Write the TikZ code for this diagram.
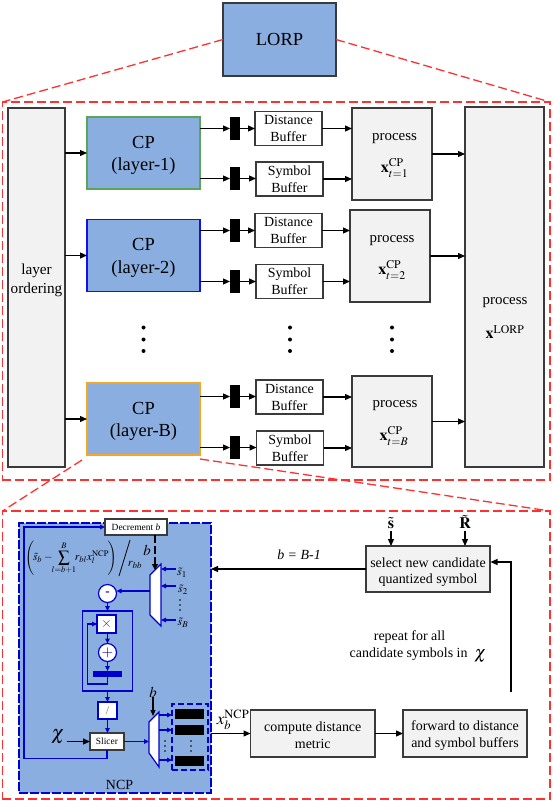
\documentclass[tikz,border=0pt]{standalone}
\usepackage{amsmath}
\usepackage{mathptmx}
\usepackage{fontspec}
\setmainfont{Liberation Serif}
\usetikzlibrary{arrows.meta}
\newcommand{\fsz}[2]{\fontsize{#1}{#2}\selectfont}
\newcommand{\pushdown}[1]{\rule{0pt}{#1bp}}
\definecolor{cpblue}{HTML}{8AAEE0}
\definecolor{boxgray}{HTML}{F2F2F2}
\definecolor{edge}{HTML}{3A3A3A}
\definecolor{wire}{HTML}{0000CC}
\definecolor{redd}{HTML}{FF3030}
\definecolor{cpgreen}{HTML}{5AA55A}
\definecolor{cporange}{HTML}{F5A623}
\definecolor{cpb}{HTML}{1010F0}
\tikzset{
  base/.style={inner sep=0pt,outer sep=0pt,align=center},
  sz/.style n args={2}{minimum width=#1,minimum height=#2},
  graybox/.style={base,draw=edge,line width=1.3pt,fill=boxgray},
  bufbox/.style={base,draw=edge,line width=1.3pt,fill=white,font=\fsz{14}{17}},
  muxbar/.style={base,fill=black,sz={10bp}{23bp}},
  cpbox/.style={base,fill=cpblue,line width=1.3pt,font=\fsz{18.5}{23},sz={113bp}{72bp}},
  txt/.style={base,text=black},
  proctxt/.style={txt,font=\fsz{15}{17}},
  mathtxt/.style={txt,font=\fsz{16}{18}},
  reddash/.style={draw=redd,line width=1.3pt,dash pattern=on 9bp off 4bp},
  arr/.style={draw=black,line width=1.2pt,-{Triangle[length=7bp,width=6bp]}},
  wirearr/.style={draw=wire,line width=1.1pt,-{Triangle[length=5bp,width=4.5bp]}},
  wireline/.style={draw=wire,line width=1.1pt},
  wirebox/.style={base,draw=wire,line width=1.2pt,fill=white},
  whitebox/.style={base,draw=edge,line width=1.2pt,fill=white,font=\fsz{9.5}{11}},
  adder/.style={base,shape=circle,draw=wire,line width=1.2pt,fill=white,minimum size=18bp},
  muxshape/.style={draw=wire,line width=1.2pt,fill=white},
  blackbar/.style={base,fill=black,sz={29bp}{10bp}},
}
\begin{document}
\begin{tikzpicture}[x=1bp,y=-1bp]
\useasboundingbox (0,0) rectangle (553,802);
% red regions
\node[base,reddash,sz={547.5bp}{378bp}] (upper) at (276.25,291) {};
\node[base,reddash,sz={547.5bp}{288bp}] (lower) at (276.25,655) {};
% top
\node[base,fill=cpblue,draw=edge,line width=1.3pt,font=\fsz{18.5}{22},sz={113bp}{73bp}] (lorp) at (279.5,39.5) {LORP};
\draw[reddash] (lorp.west) -- (upper.north west);
\draw[reddash] (lorp.east) -- (upper.north east);
% layer ordering
\node[graybox,sz={57bp}{359bp}] (ord) at (36.5,287.5) {};
\node[proctxt,font=\fsz{15.3}{19}] (ordt) at (36.5,280.5) {layer\\ordering};
% CP boxes
\node[cpbox,draw=cpgreen] (cpa) at (143.5,153) {\pushdown{17}CP\\(layer-1)};
\node[cpbox,draw=cpb] (cpc) at (143.5,255.5) {\pushdown{17}CP\\(layer-2)};
\node[cpbox,draw=cporange] (cpe) at (143.5,419) {\pushdown{17}CP\\(layer-B)};
\draw[arr] (ord.east |- cpa.west) -- (cpa.west);
\draw[arr] (ord.east |- cpc.west) -- (cpc.west);
\draw[arr] (ord.east |- cpe.west) -- (cpe.west);
% black mux bars
\node[muxbar] (ma) at (235,128.5) {};
\node[muxbar] (mb) at (235,178.5) {};
\node[muxbar] (mc) at (235,230.5) {};
\node[muxbar] (md) at (235,281.5) {};
\node[muxbar] (me) at (235,396.5) {};
\node[muxbar] (mf) at (235,447.5) {};
% buffers
\node[bufbox,sz={67bp}{33.5bp}] (da) at (288.5,128.5) {Distance\\Buffer};
\node[bufbox,sz={67bp}{34bp}] (sa) at (289.5,179) {Symbol\\Buffer};
\node[bufbox,sz={67bp}{34bp}] (dc) at (288.5,230.5) {Distance\\Buffer};
\node[bufbox,sz={67bp}{34bp}] (sc) at (289.5,281.5) {Symbol\\Buffer};
\node[bufbox,sz={67bp}{34bp}] (de) at (289.5,397) {Distance\\Buffer};
\node[bufbox,sz={67bp}{34bp}] (se) at (290,448) {Symbol\\Buffer};
% process boxes
\node[graybox,sz={80bp}{92bp}] (pa) at (392,154) {};
\node[graybox,sz={80bp}{92bp}] (pc) at (390,256) {};
\node[graybox,sz={80bp}{91bp}] (pe) at (392,421.5) {};
\node[graybox,sz={79bp}{360bp}] (pl) at (504.5,287) {};
\node[proctxt] (pat) at (394.5,139) {process};
\node[mathtxt] (pam) at (394.5,168) {$\mathbf{x}_{t=1}^{\mathrm{CP}}$};
\node[proctxt] (pct) at (392,241) {process};
\node[mathtxt] (pcm) at (392,270) {$\mathbf{x}_{t=2}^{\mathrm{CP}}$};
\node[proctxt] (pet) at (395,406) {process};
\node[mathtxt] (pem) at (394,436) {$\mathbf{x}_{t=B}^{\mathrm{CP}}$};
\node[proctxt] (plt) at (505,303) {process};
\node[mathtxt] (plm) at (505,332) {$\mathbf{x}^{\mathrm{LORP}}$};
% upper connectors
\foreach \c/\m/\b/\p in {cpa/ma/da/pa,cpa/mb/sa/pa,cpc/mc/dc/pc,cpc/md/sc/pc,cpe/me/de/pe,cpe/mf/se/pe}{
  \draw[arr] (\c.east |- \m.west) -- (\m.west);
  \draw[arr] (\m.east) -- (\b.west |- \m.east);
  \draw[arr] (\b.east) -- (\p.west |- \b.east);
}
\draw[arr] (pa.east) -- (pl.west |- pa.east);
\draw[arr] (pc.east) -- (pl.west |- pc.east);
\draw[arr] (pe.east) -- (pl.west |- pe.east);
% vertical dots
\foreach \x in {143.5,290,392}{\foreach \y in {327.5,339.5,351}{\fill[black] (\x,\y) circle (2bp);}}
% dashed zoom lines to lower panel
\coordinate (zl) at (82,460);
\coordinate (zr) at (200,459);
\draw[reddash] (zl) -- (lower.north west);
\draw[reddash] (zr) -- (lower.north east);
% NCP panel
\node[base,fill=cpblue,draw=wire,line width=1.2pt,dash pattern=on 9bp off 2bp,sz={192bp}{270bp}] (ncp) at (115,658) {};
\node[txt,font=\fsz{14}{16}] (ncpt) at (119.5,785) {NCP};
\node[whitebox,sz={62bp}{16bp}] (dec) at (136,527) {Decrement \textit{b}};
\node[txt,font=\fsz{11.5}{13}] (form) at (71,558) {$\displaystyle\left(\!\tilde{s}_b-\!\!\sum_{l=b+1}^{B}\!\! r_{bl}x_l^{\mathrm{NCP}}\!\right)$};
\coordinate (slt) at (130,540);
\coordinate (slb) at (119,576);
\draw[black,line width=.8pt] (slt) -- (slb);
\node[txt,font=\fsz{12}{13}] (rbb) at (135,565) {$r_{bb}$};
\node[mathtxt,font=\fsz{15}{17}] (blab) at (147,550) {$b$};
% first mux
\coordinate (mxt) at (155,570);
\draw[muxshape] (161,564) -- (150,575) -- (150,615) -- (161,626) -- cycle;
\draw[draw=black,line width=1.2pt,dash pattern=on 8bp off 3bp,-{Triangle[length=6bp,width=6bp]}] (dec.south -| mxt) -- (mxt);
\coordinate (sa0) at (176,569); \coordinate (sa1) at (161,569);
\coordinate (sb0) at (176,586); \coordinate (sb1) at (161,586);
\coordinate (sc0) at (176,620); \coordinate (sc1) at (161,620);
\draw[wirearr] (sa0) -- (sa1);
\draw[wirearr] (sb0) -- (sb1);
\draw[wirearr] (sc0) -- (sc1);
\node[mathtxt,font=\fsz{12}{14}] (sl1) at (182,573) {$\tilde{s}_1$};
\node[mathtxt,font=\fsz{12}{14}] (sl2) at (183,590) {$\tilde{s}_2$};
\node[mathtxt,font=\fsz{12}{14}] (sl3) at (183,623) {$\tilde{s}_B$};
\foreach \y in {600,605,610}{\fill[black] (180,\y) circle (.8bp);}
% datapath
\node[adder,font=\bfseries\fsz{13}{14},text=wire] (sub) at (107.5,593.5) {-};
\coordinate (mxo) at (150,591);
\draw[wirearr] (mxo) -- (mxo -| sub.east);
\node[base,draw=wire,line width=1.2pt,sz={50bp}{80bp}] (acc) at (107.5,651) {};
\node[wirebox,sz={19bp}{18bp},font=\fsz{14}{15},text=edge] (mul) at (106.5,624) {$\times$};
\node[adder,font=\fsz{15}{16},text=wire] (add) at (107.5,652.5) {$+$};
\node[base,fill=wire,sz={28.5bp}{6bp}] (reg) at (107.5,674) {};
\node[wirebox,sz={19bp}{17bp},font=\fsz{12}{13},text=edge!70] (slash) at (107.5,710.5) {/};
\node[whitebox,sz={34bp}{17bp}] (slicer) at (107,741.5) {Slicer};
\draw[wirearr] (sub.south) -- (acc.north -| sub.south);
\draw[wirearr] (mul.south -| add.north) -- (add.north);
\draw[wirearr] (add.south) -- (reg.north);
\draw[wireline] (reg.south) -- ++(0,7) -- ++(-20,0) |- (mul.west) ;
\draw[wirearr] (mul.west) ++(-5,0) -- (mul.west);
\draw[wirearr] (acc.south) -- (slash.north);
\draw[wirearr] (slash.south) -- (slash.south |- slicer.north);
\draw[wirearr] (slicer.south) -- ++(0,8.5) -- ++(-83,0) |- (dec.west);
% chi
\node[mathtxt,font=\fsz{20}{22}] (chi) at (58,737) {$\chi$};
\coordinate (chie) at (67,741.5);
\draw[arr] (chie) -- (chie -| slicer.west);
% second mux
\draw[muxshape] (159,712) -- (149,722) -- (149,753) -- (159,767) -- cycle;
\coordinate (m2in) at (149,741.5);
\draw[wirearr] (slicer.east) -- (m2in);
\node[mathtxt,font=\fsz{15}{17}] (bb) at (153,692) {$b$};
\coordinate (m2t) at (153,716);
\draw[draw=black,line width=1.1pt,-{Triangle[length=6bp,width=5bp]}] (bb.south -| m2t) -- (m2t);
% register file
\node[base,draw=wire,line width=1.1pt,dash pattern=on 6bp off 3bp,sz={36bp}{66bp}] (bank) at (190,737) {};
\node[blackbar] (ba) at (189.5,714) {};
\node[blackbar] (bc) at (189.5,730) {};
\node[blackbar] (be) at (189.5,761) {};
\coordinate (m2a) at (159,715); \coordinate (m2b) at (159,730); \coordinate (m2c) at (159,760);
\draw[wirearr] (m2a) -- (m2a -| bank.west);
\draw[wirearr] (m2b) -- (m2b -| bank.west);
\draw[wirearr] (m2c) -- (m2c -| bank.west);
\foreach \y in {741,746,751}{\fill[black] (165,\y) circle (.8bp); \fill[black] (191,\y) circle (.8bp);}
% right side
\node[graybox,sz={124bp}{46bp},font=\fsz{14}{17}] (sel) at (428,569) {\pushdown{16}select new candidate\\quantized symbol};
\node[graybox,sz={124.5bp}{47bp},font=\fsz{14}{17}] (comp) at (312.75,733.5) {\pushdown{14}compute distance\\metric};
\node[graybox,sz={124bp}{47bp},font=\fsz{14}{17}] (fwd) at (465,733.5) {\pushdown{14}forward to distance\\and symbol buffers};
\node[mathtxt,font=\fsz{16}{18}] (st) at (391,523) {$\tilde{\mathbf{s}}$};
\node[mathtxt,font=\fsz{16}{18}] (rt) at (465,522) {$\tilde{\mathbf{R}}$};
\coordinate (sti) at (391,531); \coordinate (rti) at (465,531);
\draw[arr] (sti) -- (sti |- sel.north);
\draw[arr] (rti) -- (rti |- sel.north);
\draw[arr] (sel.west) -- (ncp.east |- sel.west);
\node[txt,font=\fsz{14}{16}] (bdec) at (299,555) {\textit{b = B-1}};
\node[txt,font=\fsz{14}{17}] (repa) at (409.5,637.5) {repeat for all};
\node[txt,font=\fsz{14}{17}] (repb) at (418,654.5) {candidate symbols in \ \smash{\raisebox{-1pt}{\fsz{18}{18}$\chi$}}};
\coordinate (up) at (511,692);
\coordinate (selin) at (490.5,562);
\draw[arr] (up) |- (selin);
\draw[arr] (ncp.east |- comp.west) -- (comp.west);
\draw[arr] (comp.east) -- (fwd.west);
\node[mathtxt,font=\fsz{17}{19}] (xout) at (233,720) {$x_b^{\mathrm{NCP}}$};
\end{tikzpicture}
\end{document}
